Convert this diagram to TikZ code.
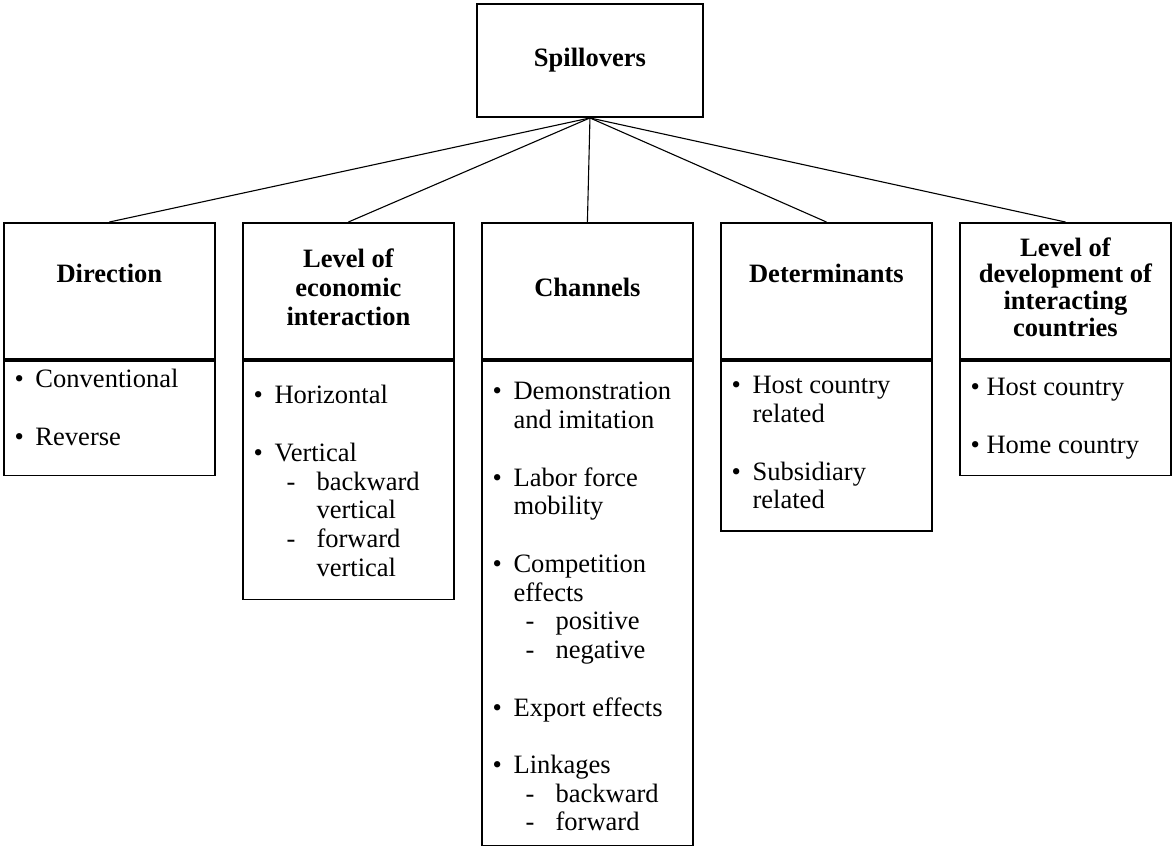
\documentclass[tikz,border=0pt]{standalone}
\usepackage{fontspec}
\setmainfont{Liberation Serif}
\usepackage{tikz}
\usetikzlibrary{positioning}
\newcommand{\diagfont}{\fontsize{12}{13}\selectfont}
\newcommand{\itm}{\strut\hspace*{5pt}\makebox[9.5pt][l]{\textbullet}}
\newcommand{\itmb}{\strut\hspace*{5pt}\textbullet\ }
\newcommand{\cnt}{\strut\hspace*{14.5pt}}
\newcommand{\sbi}{\strut\hspace*{20pt}\makebox[13.5pt][l]{-}}
\newcommand{\sbc}{\strut\hspace*{33.5pt}}
\tikzset{
  spillbox/.style={draw, line width=0.75pt, minimum width=35.9mm,
    minimum height=18mm, font=\diagfont\bfseries},
  headbox/.style={draw, line width=0.75pt, minimum width=33.55mm,
    minimum height=21.6mm, inner sep=0pt, align=center, font=\diagfont\bfseries},
  bodybox/.style={draw, line width=0.75pt, minimum width=33.55mm, inner sep=0pt},
  itemtext/.style={anchor=north west, align=left, inner sep=0pt, font=\diagfont},
  link/.style={line width=0.5pt}
}

\begin{document}
\begin{tikzpicture}[node distance=4.19mm]
\useasboundingbox (0,0) rectangle (186.5mm,-134.8mm);
\node[spillbox] (spill) at (93.8mm,-9.62mm) {Spillovers};

\node[headbox, anchor=north west] (dirhead) at (0.48mm,-35.3mm)
{\strut Direction\\\strut};
\node[headbox, right=of dirhead] (levhead)
{\strut Level of\\economic\\interaction\strut};
\node[headbox, right=of levhead] (chahead) {\strut Channels\strut};
\node[headbox, right=of chahead] (dethead) {\strut Determinants\\\strut};
\node[headbox, right=of dethead, font=\fontsize{12}{12.1}\selectfont\bfseries] (devhead)
{\strut Level of\\development of\\interacting\\countries\strut};

\node[bodybox, minimum height=18.13mm, below=0.15mm of dirhead] (dirbody) {};
\node[bodybox, minimum height=37.85mm, below=0.15mm of levhead] (levbody) {};
\node[bodybox, minimum height=76.96mm, below=0.15mm of chahead] (chabody) {};
\node[bodybox, minimum height=27.03mm, below=0.15mm of dethead] (detbody) {};
\node[bodybox, minimum height=18.13mm, below=0.15mm of devhead] (devbody) {};

\node[itemtext] (dirlist) at ([yshift=-1.1mm]dirbody.north west)
{\itm Conventional\\[13pt]\itm Reverse};
\node[itemtext] (levlist) at ([yshift=-3.64mm]levbody.north west)
{\itm Horizontal\\[13pt]\itm Vertical\\\sbi backward\\\sbc vertical\\\sbi forward\\\sbc vertical};
\node[itemtext] (chalist) at ([yshift=-3mm]chabody.north west)
{\itm Demonstration\\\cnt and imitation\\[13pt]\itm Labor force\\\cnt mobility\\[13pt]%
\itm Competition\\\cnt effects\\\sbi positive\\\sbi negative\\[13pt]%
\itm Export effects\\[13pt]\itm Linkages\\\sbi backward\\\sbi forward};
\node[itemtext] (detlist) at ([yshift=-2.05mm]detbody.north west)
{\itm Host country\\\cnt related\\[13pt]\itm Subsidiary\\\cnt related};
\node[itemtext] (devlist) at ([yshift=-2.37mm]devbody.north west)
{\itmb Host country\\[13pt]\itmb Home country};

\draw[link] (spill.south)--(dirhead.north);
\draw[link] (spill.south)--(levhead.north);
\draw[link] (spill.south)--(chahead.north);
\draw[link] (spill.south)--(dethead.north);
\draw[link] (spill.south)--(devhead.north);
\end{tikzpicture}
\end{document}
